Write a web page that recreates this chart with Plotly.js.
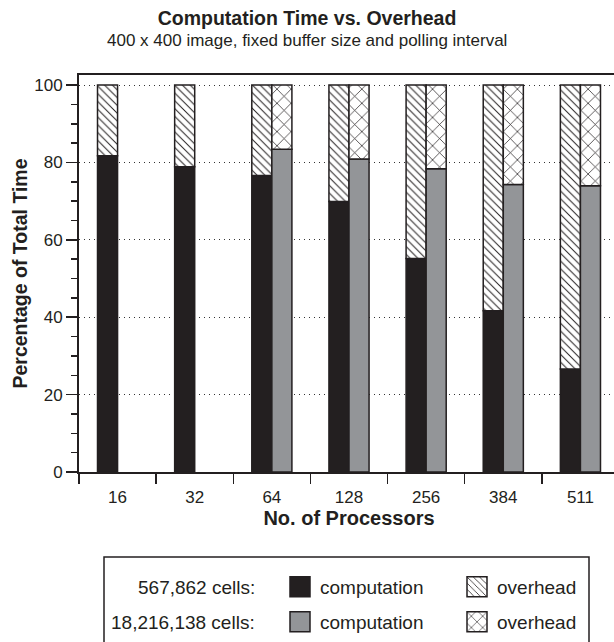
<!DOCTYPE html>
<html>
<head>
<meta charset="utf-8">
<script src="https://cdn.plot.ly/plotly-3.0.1.min.js"></script>
<style>
html,body{margin:0;padding:0;overflow:hidden;background:#ffffff;}
#chart{width:622px;height:642px;}
</style>
</head>
<body>
<div id="chart"></div>
<script>
// ---- data ----
const processors   = ['16', '32', '64', '128', '256', '384', '511'];
const comp567k     = [81.7, 78.9, 76.6, 69.9, 55.2, 41.7, 26.6];
const over567k     = [18.3, 21.1, 23.4, 30.1, 44.8, 58.3, 73.4];
const comp18m      = [null, null, 83.4, 80.9, 78.4, 74.3, 74.0];
const over18m      = [null, null, 16.6, 19.1, 21.6, 25.7, 26.0];
const yTickValues  = [0, 20, 40, 60, 80, 100];
const rowLabels    = ['567,862 cells:', '18,216,138 cells:'];
const seriesNames  = ['computation', 'overhead'];

// ---- styling ----
const FONT = '"Liberation Sans", Arial, Helvetica, sans-serif';
const INK = '#231f20';
const GREY = '#939598';
const W = 622, H = 642;
const M = {l: 79, r: 3, t: 75, b: 170};
const PW = W - M.l - M.r, PH = H - M.t - M.b;
const px2x = p => (p - M.l) / PW;
const py2y = p => (H - M.b - p) / PH;

const barW = 0.26;
const outline = {color: INK, width: 1.5};

const traces = [
  {type: 'bar', x: processors, y: comp567k, name: seriesNames[0], legend: 'legend',
   width: barW, offset: -barW,
   marker: {color: INK, line: outline}, hoverinfo: 'skip'},
  {type: 'bar', x: processors, y: over567k, base: comp567k, name: seriesNames[1], legend: 'legend',
   width: barW, offset: -barW,
   marker: {color: '#ffffff', line: outline,
            pattern: {shape: '\\', fgcolor: INK, bgcolor: '#ffffff', size: 5.5, solidity: 0.18}},
   hoverinfo: 'skip'},
  {type: 'bar', x: processors, y: comp18m, name: seriesNames[0], legend: 'legend2',
   width: barW, offset: 0,
   marker: {color: GREY, line: outline}, hoverinfo: 'skip'},
  {type: 'bar', x: processors, y: over18m, base: comp18m, name: seriesNames[1], legend: 'legend2',
   width: barW, offset: 0,
   marker: {color: '#ffffff', line: outline,
            pattern: {shape: 'x', fgcolor: INK, bgcolor: '#ffffff', size: 10, solidity: 0.14}},
   hoverinfo: 'skip'}
];

const row1Y = py2y(587), row2Y = py2y(622);
const legendCommon = {
  orientation: 'h', xanchor: 'left', yanchor: 'middle',
  x: px2x(280), font: {family: FONT, size: 19, color: INK},
  bgcolor: 'rgba(0,0,0,0)', borderwidth: 0, entrywidth: 132, entrywidthmode: 'pixels',
  traceorder: 'normal'
};

const layout = {
  width: W, height: H,
  margin: {l: M.l, r: M.r, t: M.t, b: M.b, pad: 0, autoexpand: false},
  paper_bgcolor: '#ffffff', plot_bgcolor: '#ffffff',
  font: {family: FONT, color: INK},
  barmode: 'overlay',
  title: {
    text: '<b>Computation Time vs. Overhead</b>',
    font: {family: FONT, size: 19.5, color: INK},
    xref: 'container', yref: 'container',
    x: 307 / W, xanchor: 'center', y: 1 - 18 / H, yanchor: 'middle'
  },
  xaxis: {
    type: 'category', range: [-0.5, processors.length - 0.5],
    tickson: 'boundaries', ticks: 'outside', ticklen: 10, tickwidth: 1.5, tickcolor: INK,
    ticklabelstandoff: 9,
    tickfont: {family: FONT, size: 17, color: INK},
    showline: true, linewidth: 2, linecolor: INK, mirror: true,
    showgrid: false, zeroline: false,
    title: {text: '<b>No. of Processors</b>', font: {family: FONT, size: 20, color: INK}, standoff: 5},
    automargin: false, fixedrange: true
  },
  yaxis: {
    range: [0, 102.6], tickvals: yTickValues, ticktext: yTickValues.map(String),
    ticks: 'outside', ticklen: 11, tickwidth: 1.5, tickcolor: INK,
    tickfont: {family: FONT, size: 17, color: INK},
    minor: {dtick: 5, ticks: 'outside', ticklen: 6, tickwidth: 1.5, tickcolor: INK, showgrid: false},
    showline: true, linewidth: 2, linecolor: INK, mirror: true,
    showgrid: true, gridcolor: '#333333', gridwidth: 1, griddash: '1px,4px',
    zeroline: false,
    title: {text: '<b>Percentage of Total Time</b>', font: {family: FONT, size: 19.5, color: INK}, standoff: 1},
    automargin: false, fixedrange: true
  },
  legend: Object.assign({}, legendCommon, {y: row1Y}),
  legend2: Object.assign({}, legendCommon, {y: row2Y}),
  shapes: [{
    type: 'rect', xref: 'paper', yref: 'paper',
    x0: px2x(104), x1: px2x(589), y0: py2y(557), y1: py2y(670),
    line: {color: INK, width: 1.5}, fillcolor: 'rgba(0,0,0,0)', layer: 'below'
  }],
  annotations: [
    {text: '400 x 400 image, fixed buffer size and polling interval', xref: 'paper', yref: 'paper',
     x: px2x(307), y: py2y(41), xanchor: 'center', yanchor: 'middle', showarrow: false,
     font: {family: FONT, size: 17, color: INK}},
    {text: rowLabels[0], xref: 'paper', yref: 'paper', x: px2x(257), y: row1Y,
     xanchor: 'right', yanchor: 'middle', showarrow: false, font: {family: FONT, size: 19, color: INK}},
    {text: rowLabels[1], xref: 'paper', yref: 'paper', x: px2x(257), y: row2Y,
     xanchor: 'right', yanchor: 'middle', showarrow: false, font: {family: FONT, size: 19, color: INK}}
  ],
  showlegend: true
};

Plotly.newPlot('chart', traces, layout, {displayModeBar: false, staticPlot: true}).then(function (gd) {
  // enlarge the legend swatches (both legends) to match the reference's bigger squares
  gd.querySelectorAll('.legendpoints path').forEach(function (p) {
    p.setAttribute('d', 'M10,10H-10V-10H10Z');
  });
});
</script>
</body>
</html>
